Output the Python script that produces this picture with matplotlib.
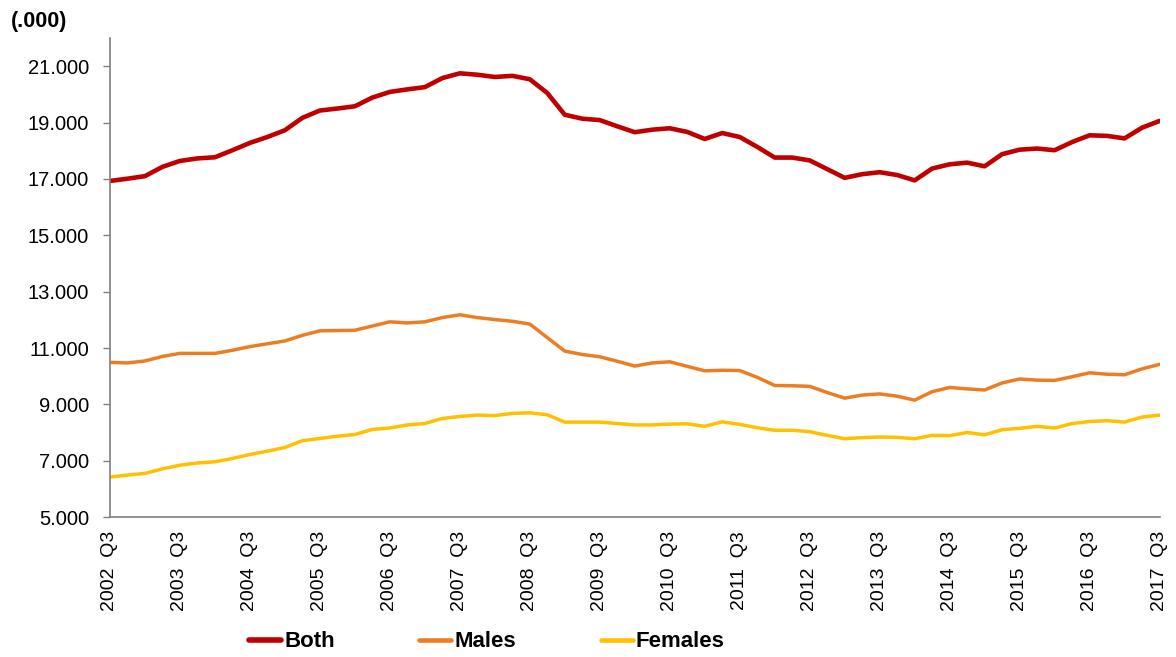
import matplotlib
matplotlib.use("Agg")
import matplotlib.pyplot as plt
from matplotlib.ticker import FuncFormatter

plt.rcParams['font.family'] = ['Liberation Sans', 'DejaVu Sans']

years = list(range(2002, 2018))

both = [16.93, 17.01, 17.10, 17.43, 17.64, 17.73, 17.77, 18.02, 18.28, 18.49,
        18.73, 19.17, 19.43, 19.50, 19.58, 19.89, 20.09, 20.18, 20.26, 20.58,
        20.75, 20.70, 20.62, 20.66, 20.54, 20.05, 19.28, 19.14, 19.09, 18.87,
        18.66, 18.75, 18.80, 18.67, 18.42, 18.63, 18.49, 18.14, 17.76, 17.76,
        17.66, 17.35, 17.04, 17.17, 17.24, 17.14, 16.95, 17.37, 17.52, 17.58,
        17.45, 17.88, 18.04, 18.08, 18.02, 18.31, 18.55, 18.53, 18.44, 18.82,
        19.06]
males = [10.49, 10.47, 10.54, 10.70, 10.81, 10.81, 10.81, 10.92, 11.05, 11.15,
         11.25, 11.45, 11.61, 11.62, 11.63, 11.78, 11.93, 11.89, 11.93, 12.08,
         12.18, 12.08, 12.01, 11.95, 11.85, 11.37, 10.89, 10.77, 10.69, 10.53,
         10.36, 10.47, 10.51, 10.35, 10.19, 10.21, 10.20, 9.96, 9.67, 9.66,
         9.64, 9.42, 9.22, 9.33, 9.37, 9.29, 9.15, 9.45, 9.60, 9.55,
         9.51, 9.76, 9.90, 9.86, 9.85, 9.98, 10.12, 10.07, 10.05, 10.26,
         10.42]
females = [6.42, 6.49, 6.55, 6.71, 6.84, 6.92, 6.96, 7.08, 7.22, 7.34,
           7.47, 7.71, 7.79, 7.87, 7.93, 8.11, 8.16, 8.27, 8.32, 8.50,
           8.57, 8.62, 8.60, 8.68, 8.70, 8.63, 8.37, 8.37, 8.37, 8.32,
           8.27, 8.27, 8.30, 8.31, 8.22, 8.38, 8.29, 8.17, 8.08, 8.08,
           8.03, 7.90, 7.78, 7.82, 7.84, 7.83, 7.78, 7.90, 7.89, 8.00,
           7.92, 8.10, 8.15, 8.22, 8.16, 8.32, 8.39, 8.42, 8.37, 8.55,
           8.62]

series_names = ["Both", "Males", "Females"]
colors = ["#C00000", "#ED7D22", "#FFC000"]
widths = [3.3, 2.5, 2.5]

x = list(range(len(both)))
tick_pos = x[::4]
tick_labels = [f"{y}  Q3" for y in years]
yticks = [5, 7, 9, 11, 13, 15, 17, 19, 21]

fig = plt.figure(figsize=(11.76, 6.57), dpi=100)
ax = fig.add_axes([0.0935, 0.213, 0.8925, 0.729])

for data, name, c, lw in zip([both, males, females], series_names, colors, widths):
    ax.plot(x, data, color=c, lw=lw, label=name, solid_capstyle='round', solid_joinstyle='round')

ax.set_xlim(0, len(both) - 1)
ax.set_ylim(5, 22)
ax.set_yticks(yticks)
ax.yaxis.set_major_formatter(FuncFormatter(lambda v, p: f"{v:.3f}"))
ax.set_xticks(tick_pos)
ax.set_xticklabels(tick_labels, rotation=90, fontsize=14)
ax.tick_params(axis='x', length=0, pad=10)
ax.tick_params(axis='y', labelsize=14.5, length=5, width=1, color='#808080', pad=10)

for s in ['top', 'right']:
    ax.spines[s].set_visible(False)
for s in ['left', 'bottom']:
    ax.spines[s].set_color('#808080')
    ax.spines[s].set_linewidth(1.2)

fig.text(0.009, 0.968, "(.000)", fontsize=15.5, fontweight='bold', ha='left', va='center')

lsize = 16
leg = fig.legend(loc='center left', bbox_to_anchor=(0.2115, 0.023), ncol=3, frameon=False,
                 prop={'size': lsize, 'weight': 'bold'},
                 handlelength=32 / (lsize * 100 / 72), borderpad=0, borderaxespad=0,
                 handletextpad=0.15, columnspacing=3.8)
for line, lw in zip(leg.get_lines(), [4.0, 3.3, 3.3]):
    line.set_linewidth(lw)

fig.savefig("out.png", dpi=100)
